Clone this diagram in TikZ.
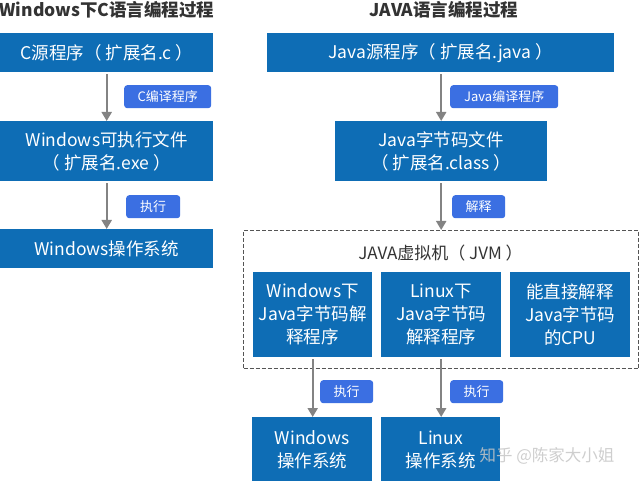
\documentclass[tikz,border=0pt]{standalone}
\usepackage{fontspec}
\setmainfont{Noto Sans CJK SC}
\usetikzlibrary{arrows.meta}
\definecolor{boxblue}{HTML}{0E6DB5}
\definecolor{tagblue}{HTML}{3B6FE2}
\definecolor{arrgray}{HTML}{838383}
\definecolor{dashgray}{HTML}{555555}
\definecolor{titlegray}{HTML}{333333}
\begin{document}
\begin{tikzpicture}[x=1pt,y=-1pt,
 box/.style={fill=boxblue,text=white,font=\fontsize{17.5}{23}\selectfont,align=center,inner sep=0pt,anchor=north west},
 tag/.style={fill=tagblue,text=white,rounded corners=3pt,font=\fontsize{13}{15}\selectfont,inner sep=0pt,anchor=north west},
 flow/.style={draw=arrgray,line width=2pt,shorten <=2pt,-{Triangle[width=10pt,length=9pt]}},
 title/.style={font=\fontsize{17.5}{20}\selectfont\bfseries,text=titlegray},
]
\useasboundingbox (0,0) rectangle (640,481);
% titles
\node[title] (t1) at (107,10) {Windows下C语言编程过程};
\node[title] (t2) at (444,10) {JAVA语言编程过程};
% left column
\node[box,minimum width=213pt,minimum height=39pt] (c1) at (0,33) {C源程序（ 扩展名.c ）};
\node[box,minimum width=213pt,minimum height=60pt] (c2) at (0,121) {Windows可执行文件\\（ 扩展名.exe ）};
\node[box,minimum width=213pt,minimum height=39pt] (c3) at (0,229) {Windows操作系统};
\draw[flow] (c1.south) -- (c2.north);
\draw[flow] (c2.south) -- (c3.north);
\node[tag,minimum width=87pt,minimum height=23pt] (l1) at (124,85) {C编译程序};
\node[tag,minimum width=54pt,minimum height=23pt] (l2) at (126,195) {执行};
% right column
\node[box,minimum width=347pt,minimum height=39pt] (j1) at (267,33) {Java源程序（ 扩展名.java ）};
\node[box,minimum width=212pt,minimum height=60pt] (j2) at (335,121) {Java字节码文件\\（ 扩展名.class ）};
\node[draw=dashgray,line width=1pt,dash pattern=on 4pt off 2pt,inner sep=0pt,anchor=north west,minimum width=395pt,minimum height=138pt] (jvm) at (243,230) {};
\node[font=\fontsize{17}{20}\selectfont,text=titlegray] (jvmt) at (440.5,253) {JAVA虚拟机（ JVM ）};
\node[box,minimum width=119pt,minimum height=85pt] (v1) at (253,272) {Windows下\\Java字节码解\\释程序};
\node[box,minimum width=120pt,minimum height=85pt] (v2) at (381,272) {Linux下\\Java字节码\\解释程序};
\node[box,minimum width=120pt,minimum height=85pt] (v3) at (510,272) {能直接解释\\Java字节码\\的CPU};
\node[box,minimum width=120pt,minimum height=66pt] (o1) at (252,417) {Windows\\操作系统};
\node[box,minimum width=119pt,minimum height=66pt] (o2) at (381,417) {Linux\\操作系统};
\draw[flow] (j1.south -| j2.north) -- (j2.north);
\draw[flow] (j2.south) -- (jvm.north -| j2.south);
\draw[flow] (v1.south) -- (o1.north -| v1.south);
\draw[flow] (v2.south) -- (o2.north -| v2.south);
\node[tag,minimum width=108pt,minimum height=23pt] (r1) at (450,85) {Java编译程序};
\node[tag,minimum width=53pt,minimum height=23pt] (r2) at (452,195) {解释};
\node[tag,minimum width=53pt,minimum height=23pt] (r3) at (320,380) {执行};
\node[tag,minimum width=53pt,minimum height=23pt] (r4) at (450,380) {执行};
% watermark
\node[text=gray!45,opacity=0.85,font=\fontsize{16.5}{18}\selectfont] (wm) at (547,456) {知乎 @陈家大小姐};
\end{tikzpicture}
\end{document}
